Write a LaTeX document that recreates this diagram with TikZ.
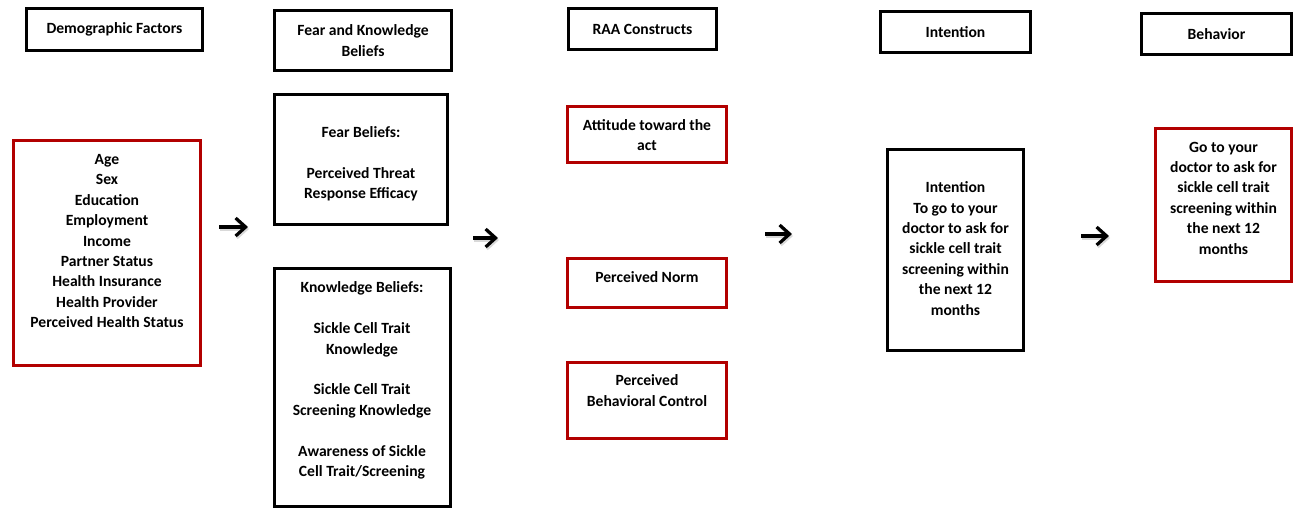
\documentclass[tikz,border=0pt]{standalone}
\usepackage{fontspec}
\setmainfont{Carlito}
\usetikzlibrary{arrows.meta}
\definecolor{boxred}{RGB}{178,0,0}
\tikzset{
  lbl/.style={font=\fontsize{15.6}{20.4}\selectfont\bfseries, align=center, inner sep=0pt},
  blackbox/.style={draw=black, line width=2.8pt, inner sep=0pt, lbl},
  redbox/.style={draw=boxred, line width=2.8pt, inner sep=0pt, lbl},
  flowarrow/.style={line width=3.2pt, -{Straight Barb[length=10pt,width=18pt]}},
  arrowshadow/.style={line width=3.2pt, draw=black!15, -{Straight Barb[length=10pt,width=18pt]}}
}
\begin{document}
\begin{tikzpicture}[x=1pt,y=-1pt]
\useasboundingbox (0,0) rectangle (1295,510);
% headers
\node[blackbox, minimum width=176, minimum height=42] (hDemo) at (114.5,29.5) {Demographic Factors};
\node[blackbox, minimum width=177, minimum height=60] (hFear) at (363,40.5) {Fear and Knowledge\\Beliefs};
\node[blackbox, minimum width=148, minimum height=41] (hRAA) at (642.5,29) {RAA Constructs};
\node[blackbox, minimum width=150, minimum height=41] (hInt) at (955.5,32) {Intention};
\node[blackbox, minimum width=150, minimum height=41] (hBeh) at (1216.5,34) {Behavior};
% column 1
\node[redbox, minimum width=187, minimum height=225] (demo) at (107,253) {};
\node[lbl] (demoT) at (107,241) {Age\\Sex\\Education\\Employment\\Income\\Partner Status\\Health Insurance\\Health Provider\\Perceived Health Status};
% column 2
\node[blackbox, minimum width=173, minimum height=130] (fear) at (361,159.5) {};
\node[lbl] (fearT) at (361,164) {Fear Beliefs:\\[20.4pt]Perceived Threat\\Response Efficacy};
\node[blackbox, minimum width=176, minimum height=238] (know) at (362.5,387.5) {};
\node[lbl] (knowT) at (362,380.5) {Knowledge Beliefs:\\[20.4pt]Sickle Cell Trait\\Knowledge\\[20.4pt]Sickle Cell Trait\\Screening Knowledge\\[20.4pt]Awareness of Sickle\\Cell Trait/Screening};
% column 3
\node[redbox, minimum width=159, minimum height=56] (att) at (647,134.5) {};
\node[lbl] (attT) at (647,135) {Attitude toward the\\act};
\node[redbox, minimum width=159, minimum height=49] (norm) at (647,283) {};
\node[lbl] (normT) at (647,277) {Perceived Norm};
\node[redbox, minimum width=159, minimum height=76] (pbc) at (647,400.5) {};
\node[lbl] (pbcT) at (647,390.5) {Perceived\\Behavioral Control};
% column 4
\node[blackbox, minimum width=136, minimum height=201] (intent) at (955.5,250) {};
\node[lbl] (intentT) at (955.5,248.5) {Intention\\To go to your\\doctor to ask for\\sickle cell trait\\screening within\\the next 12\\months};
% column 5
\node[redbox, minimum width=136, minimum height=153] (beh) at (1223.5,205) {};
\node[lbl] (behT) at (1223.5,198) {Go to your\\doctor to ask for\\sickle cell trait\\screening within\\the next 12\\months};
% arrows
\coordinate (a1s) at (219,227); \coordinate (a1e) at (248,227);
\coordinate (a2s) at (473,238); \coordinate (a2e) at (498,238);
\coordinate (a3s) at (765,234); \coordinate (a3e) at (792,234);
\coordinate (a4s) at (1081,236); \coordinate (a4e) at (1109,236);
\coordinate (s1s) at (220,229); \coordinate (s1e) at (249,229);
\coordinate (s2s) at (474,240); \coordinate (s2e) at (499,240);
\coordinate (s3s) at (766,236); \coordinate (s3e) at (793,236);
\coordinate (s4s) at (1082,238); \coordinate (s4e) at (1110,238);
\draw[arrowshadow] (s1s) -- (s1e);
\draw[arrowshadow] (s2s) -- (s2e);
\draw[arrowshadow] (s3s) -- (s3e);
\draw[arrowshadow] (s4s) -- (s4e);
\draw[flowarrow] (a1s) -- (a1e);
\draw[flowarrow] (a2s) -- (a2e);
\draw[flowarrow] (a3s) -- (a3e);
\draw[flowarrow] (a4s) -- (a4e);
\end{tikzpicture}
\end{document}
